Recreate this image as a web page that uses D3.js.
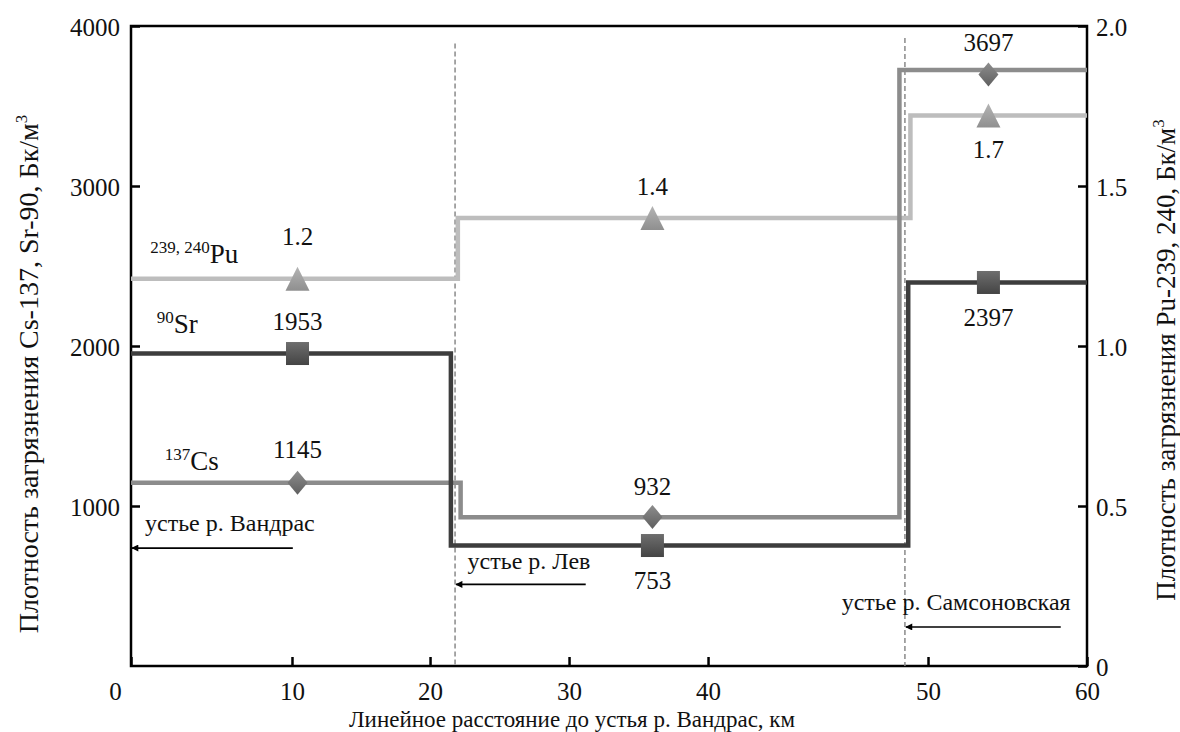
<!DOCTYPE html>
<html>
<head>
<meta charset="utf-8">
<script src="https://cdn.jsdelivr.net/npm/d3@7"></script>
<style>
  body { margin: 0; background: #fff; }
  svg text { font-family: "Liberation Serif", "Tinos", "Noto Serif", "FreeSerif", "Nimbus Roman", "Times New Roman", Times, "DejaVu Serif", serif !important; fill: #111; }
</style>
</head>
<body>
<svg width="1180" height="732"></svg>
<script>
// ---- data ----
var xTicks = [0, 10, 20, 30, 40, 50, 60];
var leftTicks = [1000, 2000, 3000, 4000];
var rightTicks = [0, 0.5, 1.0, 1.5, 2.0];

var markerKm = [10.4, 36.0, 53.8];      // where the markers sit
var mouthKm = [21.8, 48.95];            // dashed lines (river mouths)

var srSteps = [21.5, 49.1];
var srValues = [1953, 753, 2397];

var csSteps = [22.2, 48.7];
var csLevels = [1145, 930, 3725];
var csValues = [1145, 932, 3697];

var puSteps = [22.0, 49.2];
var puValues = [1.21, 1.40, 1.72];

var svg = d3.select("svg");
var margin = { t: 26, r: 93, b: 66, l: 131 };
var W = +svg.attr("width"), H = +svg.attr("height");
var pw = W - margin.l - margin.r, ph = H - margin.t - margin.b;

// x axis in the figure is not evenly spaced, keep the tick spacing of the picture
var xscale = d3.scaleLinear()
  .domain(xTicks)
  .range([0, 0.1684, 0.3128, 0.4582, 0.6036, 0.8337, 1].map(function (f) { return margin.l + f * pw; }));
var yscale = d3.scaleLinear().domain([0, 4000]).range([margin.t + ph, margin.t]);
var yscale2 = d3.scaleLinear().domain([0, 2]).range([margin.t + ph, margin.t]);

var defs = svg.append("defs");
function grad(id, c1, c2) {
  var g = defs.append("linearGradient").attr("id", id).attr("x1", 0).attr("y1", 0).attr("x2", 0).attr("y2", 1);
  g.append("stop").attr("offset", "0%").attr("stop-color", c1);
  g.append("stop").attr("offset", "100%").attr("stop-color", c2);
}
grad("gSq", "#6e6e6e", "#444");
grad("gDi", "#8d8d8d", "#5f5f5f");
grad("gTr", "#b4b4b4", "#8f8f8f");
defs.append("marker").attr("id", "arr").attr("viewBox", "0 0 10 10")
  .attr("refX", 9).attr("refY", 5).attr("markerWidth", 10).attr("markerHeight", 7)
  .attr("markerUnits", "userSpaceOnUse").attr("orient", "auto")
  .append("path").attr("d", "M0,0 L10,5 L0,10 z").attr("fill", "#000");

// ---- axes ----
var gx = svg.append("g").attr("transform", "translate(0," + (margin.t + ph) + ")")
  .call(d3.axisBottom(xscale).tickValues(xTicks).tickSize(-9).tickSizeOuter(0).tickFormat(d3.format("d")));
gx.selectAll("text").attr("y", 34).attr("dy", 0).style("font-size", "25px")
  .attr("dx", function (d) { return d === 0 ? -16 : 0; });

var gl = svg.append("g").attr("transform", "translate(" + margin.l + ",0)")
  .call(d3.axisLeft(yscale).tickValues(leftTicks).tickSize(-9).tickSizeOuter(0).tickPadding(11)
    .tickFormat(d3.format("d")));
gl.selectAll("text").attr("dy", 9).style("font-size", "25px");

var gr = svg.append("g").attr("transform", "translate(" + (margin.l + pw) + ",0)")
  .call(d3.axisRight(yscale2).tickValues(rightTicks).tickSize(-9).tickSizeOuter(0).tickPadding(9)
    .tickFormat(function (d) { return d === 0 ? "0" : d3.format(".1f")(d); }));
gr.selectAll("text").attr("dy", 9).style("font-size", "25px");

[gx, gl, gr].forEach(function (g) {
  g.attr("font-family", null).attr("font-size", null);
  g.select(".domain").remove();
  g.selectAll("line").attr("stroke", "#000").attr("stroke-width", 2.5);
  g.selectAll("text").attr("fill", "#111");
});

svg.append("rect").attr("x", margin.l).attr("y", margin.t).attr("width", pw).attr("height", ph)
  .attr("fill", "none").attr("stroke", "#000").attr("stroke-width", 2.5);

// axis titles
svg.append("text").attr("x", xscale(30) + 3).attr("y", 727).attr("text-anchor", "middle")
  .style("font-size", "23px").text("Линейное расстояние до устья р. Вандрас, км");

var lt = svg.append("text").attr("transform", "translate(38,374) rotate(-90)")
  .attr("text-anchor", "middle").style("font-size", "28px");
lt.append("tspan").text("Плотность загрязнения Cs-137, Sr-90, Бк/м");
lt.append("tspan").attr("dy", -11).style("font-size", "17px").text("3");

var rt = svg.append("text").attr("transform", "translate(1175,360) rotate(-90)")
  .attr("text-anchor", "middle").style("font-size", "27px");
rt.append("tspan").text("Плотность загрязнения Pu-239, 240, Бк/м");
rt.append("tspan").attr("dy", -11).style("font-size", "17px").text("3");

// ---- river mouths ----
svg.selectAll(".mouth").data(mouthKm).enter().append("line")
  .attr("x1", function (d) { return xscale(d); }).attr("x2", function (d) { return xscale(d); })
  .attr("y1", function (d, i) { return yscale(i ? 3925 : 3890); }).attr("y2", yscale(0))
  .attr("stroke", "#8a8a8a").attr("stroke-width", 1.5).attr("stroke-dasharray", "5,3");

// ---- step lines ----
function stepPts(steps, vals) {
  return [[0, vals[0]], [steps[0], vals[1]], [steps[1], vals[2]], [60, vals[2]]];
}
var lineL = d3.line().curve(d3.curveStepAfter).x(function (d) { return xscale(d[0]); }).y(function (d) { return yscale(d[1]); });
var lineR = d3.line().curve(d3.curveStepAfter).x(function (d) { return xscale(d[0]); }).y(function (d) { return yscale2(d[1]); });

svg.append("path").attr("d", lineR(stepPts(puSteps, puValues))).attr("fill", "none").attr("stroke", "#bdbdbd").attr("stroke-width", 4.5);
svg.append("path").attr("d", lineL(stepPts(csSteps, csLevels))).attr("fill", "none").attr("stroke", "#8c8c8c").attr("stroke-width", 4.5);
svg.append("path").attr("d", lineL(stepPts(srSteps, srValues))).attr("fill", "none").attr("stroke", "#3d3d3d").attr("stroke-width", 4.5);

// ---- markers ----
svg.selectAll(".tri").data(puValues).enter().append("path")
  .attr("transform", function (d, i) { return "translate(" + xscale(markerKm[i]) + "," + yscale2(d) + ")"; })
  .attr("d", "M0,-12 L12,12 L-12,12 Z").attr("fill", "url(#gTr)");
svg.selectAll(".dia").data(csValues).enter().append("path")
  .attr("transform", function (d, i) { return "translate(" + xscale(markerKm[i]) + "," + yscale(d) + ")"; })
  .attr("d", "M0,-12 L10,0 L0,12 L-10,0 Z").attr("fill", "url(#gDi)");
svg.selectAll(".sq").data(srValues).enter().append("rect")
  .attr("x", function (d, i) { return xscale(markerKm[i]) - 11.5; })
  .attr("y", function (d) { return yscale(d) - 11.5; })
  .attr("width", 23).attr("height", 23).attr("fill", "url(#gSq)");

// ---- value labels ----
var puDy = [-34, -23, 42], csDy = [-25, -22, -23], srDy = [-24, 43, 44];
function vlabels(vals, sc, dys, fmt) {
  svg.append("g").selectAll("text").data(vals).enter().append("text")
    .attr("x", function (d, i) { return xscale(markerKm[i]); })
    .attr("y", function (d, i) { return sc(d) + dys[i]; })
    .attr("text-anchor", "middle").style("font-size", "25px")
    .text(fmt);
}
vlabels(puValues, yscale2, puDy, d3.format(".1f"));
vlabels(csValues, yscale, csDy, d3.format("d"));
vlabels(srValues, yscale, srDy, d3.format("d"));

// ---- series names ----
var seriesNames = [
  { sup: "239, 240", el: "Pu", km: 1.2, v: 2517 },
  { sup: "90", el: "Sr", km: 1.6, v: 2080 },
  { sup: "137", el: "Cs", km: 2.1, v: 1223 }
];
seriesNames.forEach(function (s) {
  var t = svg.append("text").attr("x", xscale(s.km)).attr("y", yscale(s.v)).style("font-size", "27px");
  t.append("tspan").attr("dy", -10).style("font-size", "17px").text(s.sup);
  t.append("tspan").attr("dy", 10).text(s.el);
});

// ---- mouth annotations ----
var notes = [
  { text: "устье р. Вандрас", tx: 0.87, ty: 842, anchor: "start", from: 10.06, to: 0, ay: 737 },
  { text: "устье р. Лев", tx: 22.7, ty: 606, anchor: "start", from: 31.2, to: 21.8, ay: 510 },
  { text: "устье р. Самсоновская", tx: 58.97, ty: 352, anchor: "end", from: 58.35, to: 48.95, ay: 244 }
];
notes.forEach(function (n) {
  svg.append("text").attr("x", xscale(n.tx)).attr("y", yscale(n.ty)).attr("text-anchor", n.anchor)
    .style("font-size", "24px").text(n.text);
  svg.append("line").attr("x1", xscale(n.from)).attr("x2", xscale(n.to) + 1)
    .attr("y1", yscale(n.ay)).attr("y2", yscale(n.ay))
    .attr("stroke", "#000").attr("stroke-width", 1.6).attr("marker-end", "url(#arr)");
});
</script>
</body>
</html>
